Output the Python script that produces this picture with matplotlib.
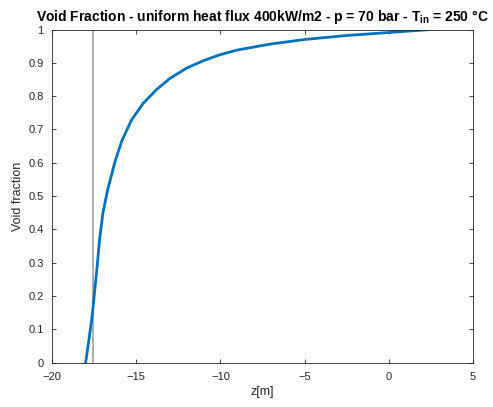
import matplotlib
matplotlib.use('Agg')
import matplotlib.pyplot as plt

plt.rcParams['font.family'] = ['Liberation Sans', 'DejaVu Sans']

# void fraction along the channel
z = [-18.0, -17.81, -17.62, -17.46, -17.32, -17.18, -16.98, -16.70, -16.25,
     -15.86, -15.28, -14.59, -13.79, -13.0, -12.01, -11.03, -10.04, -9.04,
     -7.07, -5.0, -2.5, 0.0, 2.5]
alpha = [0.0, 0.068, 0.138, 0.218, 0.288, 0.368, 0.448, 0.518, 0.605,
         0.665, 0.728, 0.778, 0.820, 0.853, 0.884, 0.906, 0.924, 0.938,
         0.956, 0.970, 0.982, 0.991, 1.0]
z_onset = -17.59  # vertical marker

xticks = [-20, -15, -10, -5, 0, 5]
yticks = [0, 0.1, 0.2, 0.3, 0.4, 0.5, 0.6, 0.7, 0.8, 0.9, 1]
ylabels = ['0', '0.1', '0.2', '0.3', '0.4', '0.5', '0.6', '0.7', '0.8', '0.9', '1']

fig = plt.figure(figsize=(4.93, 4.07), dpi=100)
ax = fig.add_axes([0.1055, 0.1093, 0.8539, 0.8182])

ax.axvline(z_onset, color='#a0a0a0', lw=1.2, zorder=1)
ax.plot(z, alpha, color='#0072BD', lw=2.0, zorder=2, solid_joinstyle='round')

ax.set_xlim(-20, 5)
ax.set_ylim(0, 1)
ax.set_xticks(xticks)
ax.set_yticks(yticks)
ax.set_yticklabels(ylabels)

ax.tick_params(direction='in', top=True, right=True, length=3, width=0.6,
               colors='#262626', labelsize=8)
ax.tick_params(axis='x', pad=7)
ax.tick_params(axis='y', pad=6)
for s in ax.spines.values():
    s.set_color('#262626')
    s.set_linewidth(0.6)

ax.set_xlabel('z[m]', fontsize=9, color='#262626', labelpad=3)
ax.set_ylabel('Void fraction', fontsize=9, color='#262626', labelpad=3)
ax.set_title('Void Fraction - uniform heat flux 400kW/m2 - p = 70 bar - T$_{\\mathregular{in}}$ = 250 °C',
             fontsize=10, fontweight='bold', pad=6)

fig.savefig('out.png', dpi=100)
